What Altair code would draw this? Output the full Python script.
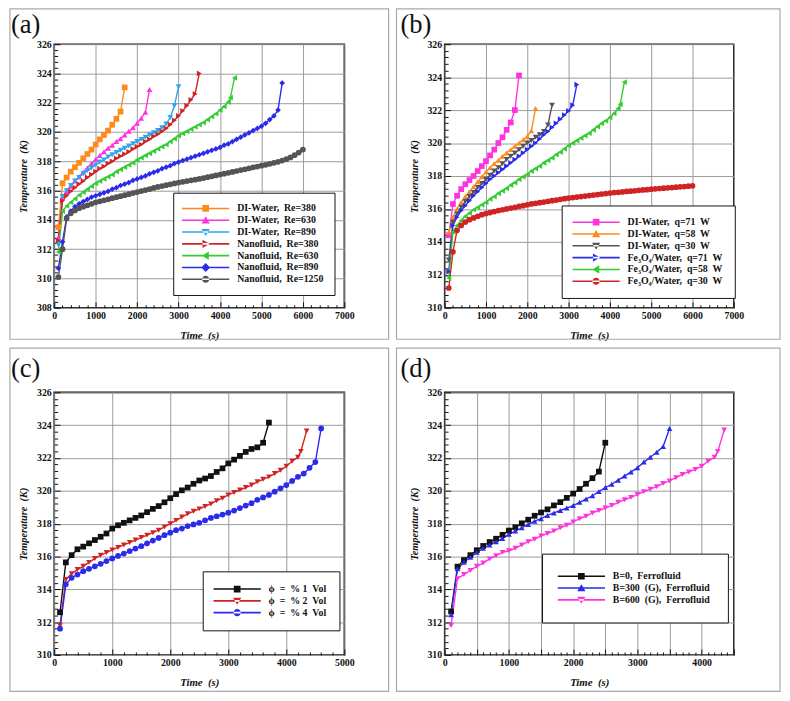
import altair as alt
import pandas as pd

FONT = "Liberation Serif"

# ---------------- data: panel (a) ----------------
A_T380 = list(range(100, 1800, 100))
A_DI380 = [313.5, 316.5, 316.9, 317.3, 317.6, 317.9, 318.2, 318.5, 318.8, 319.15, 319.5, 319.8, 320.1, 320.5, 320.9, 321.4, 323.05]
A_T630 = list(range(100, 2400, 100))
A_DI630 = [312.8, 315.5, 315.9, 316.3, 316.65, 316.95, 317.25, 317.55, 317.85, 318.15, 318.4, 318.65, 318.9, 319.1, 319.35, 319.55, 319.8, 320.05, 320.3, 320.6, 320.95, 321.35, 322.9]
A_T890 = list(range(100, 3100, 100))
A_DI890 = [312.3, 315.6, 316.0, 316.35, 316.65, 316.9, 317.15, 317.35, 317.55, 317.75, 317.95, 318.1, 318.3, 318.45, 318.6, 318.75, 318.9, 319.05, 319.2, 319.35, 319.5, 319.65, 319.8, 319.95, 320.1, 320.3, 320.55, 321.0, 321.8, 323.1]
A_TN380 = list(range(100, 3600, 100))
A_NF380 = [312.6, 315.3, 315.65, 315.95, 316.2, 316.45, 316.65, 316.9, 317.1, 317.3, 317.5, 317.65, 317.85, 318.0, 318.2, 318.35, 318.5, 318.65, 318.85, 319.0, 319.15, 319.35, 319.5, 319.7, 319.85, 320.05, 320.25, 320.5, 320.8, 321.1, 321.45, 321.8, 322.2, 322.6, 324.0]
A_TN630 = list(range(100, 4300, 100)) + [4250, 4350]
A_NF630 = [311.8, 314.6, 314.95, 315.2, 315.45, 315.7, 315.9, 316.1, 316.3, 316.5, 316.65, 316.8, 316.95, 317.1, 317.3, 317.45, 317.6, 317.75, 317.9, 318.1, 318.25, 318.4, 318.55, 318.7, 318.85, 319.0, 319.15, 319.35, 319.55, 319.75, 319.9, 320.05, 320.2, 320.35, 320.5, 320.65, 320.85, 321.05, 321.25, 321.5, 321.75, 322.05, 322.35, 323.7]
A_TN890 = list(range(100, 5600, 100))
A_NF890 = [310.7, 312.5, 314.2, 314.6, 314.9, 315.1, 315.25, 315.4, 315.55, 315.65, 315.75, 315.85, 315.95, 316.1, 316.2, 316.35, 316.45, 316.55, 316.7, 316.8, 316.9, 317.0, 317.15, 317.25, 317.35, 317.5, 317.6, 317.7, 317.85, 317.95, 318.05, 318.15, 318.25, 318.35, 318.45, 318.55, 318.65, 318.75, 318.85, 318.95, 319.1, 319.2, 319.35, 319.5, 319.65, 319.8, 319.95, 320.1, 320.25, 320.4, 320.6, 320.85, 321.1, 321.5, 323.35]
A_TN1250 = list(range(100, 6100, 100))
A_NF1250 = [310.1, 312.0, 314.1, 314.45, 314.65, 314.8, 314.9, 315.0, 315.1, 315.2, 315.27, 315.34, 315.41, 315.48, 315.55, 315.62, 315.69, 315.76, 315.83, 315.9, 315.97, 316.04, 316.11, 316.18, 316.25, 316.31, 316.37, 316.43, 316.49, 316.55, 316.6, 316.65, 316.7, 316.75, 316.8, 316.86, 316.92, 316.98, 317.04, 317.1, 317.16, 317.22, 317.28, 317.34, 317.4, 317.46, 317.52, 317.58, 317.64, 317.7, 317.76, 317.83, 317.9, 317.97, 318.05, 318.15, 318.27, 318.42, 318.6, 318.8]

# ---------------- data: panel (b) ----------------
B_T71 = list(range(100, 1900, 100))
B_DI71 = [314.4, 316.3, 316.8, 317.2, 317.5, 317.75, 318.0, 318.3, 318.6, 318.9, 319.25, 319.6, 320.0, 320.35, 320.8, 321.25, 322.0, 324.1]
B_T58 = list(range(100, 2300, 100))
B_DI58 = [314.6, 315.5, 316.0, 316.4, 316.75, 317.05, 317.35, 317.65, 317.95, 318.25, 318.5, 318.75, 318.95, 319.2, 319.4, 319.6, 319.8, 320.0, 320.2, 320.4, 320.75, 322.1]
B_T30 = list(range(100, 2700, 100))
B_DI30 = [312.9, 315.2, 315.7, 316.1, 316.45, 316.75, 317.0, 317.3, 317.55, 317.8, 318.05, 318.3, 318.5, 318.75, 319.0, 319.2, 319.4, 319.6, 319.8, 320.0, 320.15, 320.35, 320.5, 320.7, 321.1, 322.3]
B_TF71 = list(range(100, 3300, 100))
B_FE71 = [312.2, 315.0, 315.5, 315.9, 316.2, 316.5, 316.8, 317.05, 317.3, 317.55, 317.8, 318.0, 318.2, 318.4, 318.6, 318.8, 319.0, 319.2, 319.4, 319.6, 319.8, 320.0, 320.25, 320.5, 320.7, 320.95, 321.2, 321.45, 321.7, 321.95, 322.3, 323.55]
B_TF58 = list(range(100, 4300, 100)) + [4250, 4350]
B_FE58 = [311.8, 314.6, 315.0, 315.3, 315.55, 315.75, 315.95, 316.1, 316.25, 316.4, 316.6, 316.75, 316.95, 317.1, 317.25, 317.45, 317.6, 317.8, 317.95, 318.1, 318.3, 318.45, 318.6, 318.8, 318.95, 319.1, 319.3, 319.45, 319.65, 319.85, 320.0, 320.15, 320.3, 320.45, 320.6, 320.8, 321.0, 321.2, 321.35, 321.55, 321.8, 322.1, 322.35, 323.7]
B_TF30 = list(range(100, 6100, 100))
B_FE30 = [311.2, 313.4, 314.7, 315.0, 315.2, 315.35, 315.45, 315.55, 315.65, 315.72, 315.78, 315.84, 315.9, 315.95, 316.0, 316.05, 316.1, 316.15, 316.2, 316.25, 316.3, 316.34, 316.38, 316.42, 316.46, 316.5, 316.54, 316.58, 316.62, 316.66, 316.69, 316.72, 316.75, 316.78, 316.81, 316.84, 316.87, 316.9, 316.93, 316.96, 316.99, 317.01, 317.03, 317.06, 317.08, 317.1, 317.13, 317.15, 317.17, 317.2, 317.22, 317.24, 317.26, 317.28, 317.3, 317.32, 317.34, 317.36, 317.38, 317.4]

# ---------------- data: panel (c) ----------------
C_T1 = list(range(100, 3800, 100))
C_PHI1 = [312.6, 315.64, 316.08, 316.44, 316.6, 316.8, 317.0, 317.2, 317.4, 317.7, 317.9, 318.05, 318.2, 318.35, 318.5, 318.7, 318.9, 319.07, 319.3, 319.55, 319.8, 320.03, 320.2, 320.43, 320.63, 320.75, 320.9, 321.15, 321.37, 321.67, 321.9, 322.13, 322.37, 322.55, 322.65, 322.93, 324.16]
C_T2 = list(range(100, 4300, 100)) + [4250, 4350]
C_PHI2 = [311.8, 314.6, 314.95, 315.2, 315.4, 315.64, 315.88, 316.08, 316.24, 316.4, 316.55, 316.7, 316.85, 317.0, 317.15, 317.3, 317.45, 317.6, 317.8, 318.0, 318.2, 318.4, 318.6, 318.75, 318.9, 319.05, 319.2, 319.4, 319.55, 319.75, 319.9, 320.05, 320.2, 320.35, 320.55, 320.7, 320.85, 321.05, 321.25, 321.5, 321.8, 322.05, 322.4, 323.65]
C_T4 = list(range(100, 4700, 100))
C_PHI4 = [311.6, 314.3, 314.7, 314.9, 315.1, 315.25, 315.4, 315.55, 315.72, 315.88, 316.03, 316.18, 316.33, 316.48, 316.63, 316.8, 316.97, 317.13, 317.3, 317.45, 317.6, 317.7, 317.85, 317.95, 318.05, 318.2, 318.35, 318.45, 318.55, 318.67, 318.8, 318.95, 319.1, 319.25, 319.45, 319.6, 319.75, 319.95, 320.15, 320.35, 320.6, 320.85, 321.05, 321.4, 321.75, 323.8]

# ---------------- data: panel (d) ----------------
D_T0 = list(range(100, 2600, 100))
D_B0 = [312.65, 315.38, 315.78, 316.08, 316.38, 316.64, 316.88, 317.08, 317.32, 317.58, 317.78, 318.02, 318.24, 318.48, 318.68, 318.87, 319.11, 319.31, 319.57, 319.83, 320.11, 320.43, 320.77, 321.17, 322.93]
D_T300 = list(range(100, 3600, 100))
D_B300 = [312.45, 315.25, 315.65, 315.95, 316.25, 316.5, 316.7, 316.9, 317.1, 317.35, 317.55, 317.75, 317.95, 318.15, 318.3, 318.5, 318.65, 318.8, 318.95, 319.1, 319.3, 319.5, 319.7, 319.95, 320.2, 320.4, 320.65, 320.9, 321.15, 321.4, 321.75, 322.05, 322.35, 322.7, 323.8]
D_T600 = list(range(100, 4300, 100)) + [4250, 4350]
D_B600 = [311.8, 314.65, 314.9, 315.15, 315.4, 315.6, 315.85, 316.05, 316.25, 316.35, 316.5, 316.7, 316.9, 317.05, 317.25, 317.4, 317.55, 317.75, 317.9, 318.1, 318.3, 318.45, 318.65, 318.8, 318.95, 319.1, 319.3, 319.45, 319.6, 319.77, 319.95, 320.1, 320.25, 320.45, 320.6, 320.8, 321.0, 321.15, 321.3, 321.5, 321.8, 322.05, 322.4, 323.7]

ORANGE, MAGENTA, CYAN = "#ff8a1c", "#ff33dd", "#2fa6ec"
RED, GREEN, BLUE, GRAY, BLACK = "#d02424", "#33cc33", "#2b2bea", "#555555", "#111111"
NB = "\u00a0"

# legend symbol paths: a line segment plus the marker (units of sqrt(size)/2)
LINE_PATH = "M-11,-0.2H1V0.2H-11Z"
MARKER_PATH = {
    "square": "M-5.85,-0.85H-4.15V0.85H-5.85Z",
    "triangle-up": "M-5,-1L-3.95,0.8H-6.05Z",
    "triangle-down": "M-5,1L-3.95,-0.8H-6.05Z",
    "triangle-right": "M-4,0L-5.8,-1.05V1.05Z",
    "triangle-left": "M-6,0L-4.2,-1.05V1.05Z",
    "diamond": "M-5,-1.15L-3.9,0L-5,1.15L-6.1,0Z",
    "circle": "M-5.9,0A0.9,0.9,0,1,0,-4.1,0A0.9,0.9,0,1,0,-5.9,0Z",
}


def make_panel(series, xmax, x_minor, x_grid, ymin, width, height, letter,
               frame, letter_pos, leg_x, leg_y, leg_pad, sym_off):
    names = [s[0] for s in series]
    colors = [s[3] for s in series]
    shapes = [s[4] for s in series]
    paths = [LINE_PATH + " " + MARKER_PATH[s[4]] for s in series]
    rows = []
    for name, ts, vals, _c, _s in series:
        for t, v in zip(ts, vals):
            rows.append({"series": name, "t": t, "T": v})
    df = pd.DataFrame(rows)

    xvals = list(range(0, xmax + 1, x_minor))
    ny = int(round((326 - ymin) / 0.4))
    yvals = [round(ymin + 0.4 * i, 1) for i in range(ny + 1)]

    xmaj = f"datum.value % {x_grid} === 0"
    ymaj = "(abs(datum.value % 2) < 0.01 || abs(datum.value % 2 - 2) < 0.01)"
    common = dict(
        domain=False, tickColor="#111", tickWidth=1, tickCount=1000, tickMinStep=0.01,
        gridColor="#9a9a9a", gridWidth=1,
        labelFont=FONT, labelFontWeight="bold", labelFontSize=10, labelColor="#111",
        titleFont=FONT, titleFontWeight="bold", titleFontStyle="italic",
        titleColor="#111", labelOverlap=False, labelFlush=False,
    )
    xaxis = alt.Axis(values=xvals, title=f"Time{NB} (s)",
                     labelExpr="datum.value % 1000 === 0 ? format(datum.value, '.0f') : ''",
                     gridOpacity={"expr": f"{xmaj} ? 1 : 0"},
                     tickSize={"expr": f"{xmaj} ? -6 : -3"},
                     labelPadding=9, titlePadding=6, titleFontSize=11, **common)
    yaxis = alt.Axis(values=yvals, title=f"Temperature{NB} (K)",
                     labelExpr=f"{ymaj} ? format(datum.value, '.0f') : ''",
                     gridOpacity={"expr": f"{ymaj} ? 1 : 0"},
                     tickSize={"expr": f"{ymaj} ? -6 : -3.5"},
                     labelPadding=9, titlePadding=8, titleFontSize=10.5, **common)

    x = alt.X("t:Q", scale=alt.Scale(domain=[0, xmax], nice=False, zero=False), axis=xaxis)
    y = alt.Y("T:Q", scale=alt.Scale(domain=[ymin, 326], nice=False, zero=False), axis=yaxis)

    base = alt.Chart(df)
    lines = base.mark_line(strokeWidth=1.4).encode(
        x=x, y=y,
        color=alt.Color("series:N", scale=alt.Scale(domain=names, range=colors), legend=None),
        detail="series:N",
    )
    points = base.mark_point(filled=True, opacity=1, size=34).encode(
        x=x, y=y,
        color=alt.Color("series:N", scale=alt.Scale(domain=names, range=colors), legend=None),
        shape=alt.Shape("series:N", scale=alt.Scale(domain=names, range=shapes), legend=None),
    )
    leg = alt.Legend(orient="none", legendX=leg_x, legendY=leg_y,
                     strokeColor="#111", fillColor="white", padding=leg_pad,
                     labelFont=FONT, labelFontWeight="bold", labelFontSize=10,
                     labelColor="#111", symbolStrokeWidth=0, symbolSize=64,
                     symbolOffset=sym_off, labelOffset=7, rowPadding=2, labelLimit=400)
    legend_layer = base.transform_filter("datum.t < 0").mark_point(
        filled=True, opacity=1, size=64).encode(
        color=alt.Color("series:N", scale=alt.Scale(domain=names, range=colors),
                        legend=leg, title=None),
        shape=alt.Shape("series:N", scale=alt.Scale(domain=names, range=paths),
                        legend=leg, title=None),
    )
    one = alt.Data(values=[{"k": 1}])
    fx1, fx2, fy1, fy2 = frame
    frame_layer = alt.Chart(one).mark_rect(
        fill="transparent", stroke="#a8a8a8", strokeWidth=1.2).encode(
        x=alt.value(fx1), x2=alt.value(fx2), y=alt.value(fy1), y2=alt.value(fy2))
    letter_layer = alt.Chart(one).mark_text(
        text=letter, font=FONT, fontSize=27, align="left", baseline="alphabetic",
        color="#111").encode(x=alt.value(letter_pos[0]), y=alt.value(letter_pos[1]))

    return alt.layer(frame_layer, lines, points, legend_layer, letter_layer).resolve_scale(
        color="independent", shape="independent").properties(width=width, height=height)


panel_a = make_panel(
    [
        (f"DI-Water,{NB} Re=380", A_T380, A_DI380, ORANGE, "square"),
        (f"DI-Water,{NB} Re=630", A_T630, A_DI630, MAGENTA, "triangle-up"),
        (f"DI-Water,{NB} Re=890", A_T890, A_DI890, CYAN, "triangle-down"),
        (f"Nanofluid,{NB} Re=380", A_TN380, A_NF380, RED, "triangle-right"),
        (f"Nanofluid,{NB} Re=630", A_TN630, A_NF630, GREEN, "triangle-left"),
        (f"Nanofluid,{NB} Re=890", A_TN890, A_NF890, BLUE, "diamond"),
        (f"Nanofluid,{NB} Re=1250", A_TN1250, A_NF1250, GRAY, "circle"),
    ],
    xmax=7000, x_minor=200, x_grid=1000, ymin=308, width=295, height=268,
    letter="(a)", frame=(-45, 340, -36, 300), letter_pos=(-44, -11.5),
    leg_x=121, leg_y=151, leg_pad=11, sym_off=37,
)

panel_b = make_panel(
    [
        (f"DI-Water,{NB} q=71{NB} W", B_T71, B_DI71, MAGENTA, "square"),
        (f"DI-Water,{NB} q=58{NB} W", B_T58, B_DI58, ORANGE, "triangle-up"),
        (f"DI-Water,{NB} q=30{NB} W", B_T30, B_DI30, GRAY, "triangle-down"),
        (f"Fe\u2083O\u2084/Water,{NB} q=71{NB} W", B_TF71, B_FE71, BLUE, "triangle-right"),
        (f"Fe\u2083O\u2084/Water,{NB} q=58{NB} W", B_TF58, B_FE58, GREEN, "triangle-left"),
        (f"Fe\u2083O\u2084/Water,{NB} q=30{NB} W", B_TF30, B_FE30, RED, "circle"),
    ],
    xmax=7000, x_minor=200, x_grid=1000, ymin=310, width=294, height=268,
    letter="(b)", frame=(-49, 341, -36, 300), letter_pos=(-45, -11.5),
    leg_x=119, leg_y=164, leg_pad=12, sym_off=38,
)

panel_c = make_panel(
    [
        (f"\u03d5{NB} ={NB} % 1{NB} Vol", C_T1, C_PHI1, BLACK, "square"),
        (f"\u03d5{NB} ={NB} % 2{NB} Vol", C_T2, C_PHI2, RED, "triangle-down"),
        (f"\u03d5{NB} ={NB} % 4{NB} Vol", C_T4, C_PHI4, BLUE, "circle"),
    ],
    xmax=5000, x_minor=200, x_grid=1000, ymin=310, width=295, height=267,
    letter="(c)", frame=(-45, 340, -45, 304), letter_pos=(-44, -16),
    leg_x=151, leg_y=182, leg_pad=13, sym_off=37,
)

panel_d = make_panel(
    [
        (f"B=0,{NB} Ferrofluid", D_T0, D_B0, BLACK, "square"),
        (f"B=300{NB} (G),{NB} Ferrofluid", D_T300, D_B300, BLUE, "triangle-up"),
        (f"B=600{NB} (G),{NB} Ferrofluid", D_T600, D_B600, MAGENTA, "triangle-down"),
    ],
    xmax=4500, x_minor=100, x_grid=500, ymin=310, width=294, height=267,
    letter="(d)", frame=(-49, 341, -45, 304), letter_pos=(-45, -16),
    leg_x=99, leg_y=164, leg_pad=18, sym_off=37,
)

chart = alt.vconcat(
    alt.hconcat(panel_a, panel_b, spacing=4),
    alt.hconcat(panel_c, panel_d, spacing=4),
    spacing=5,
).properties(
    padding={"left": 0, "top": -7, "right": 0, "bottom": 0}
).configure_view(stroke="#111", strokeWidth=1.6)

chart.save("out.html", embed_options={"renderer": "svg", "actions": False})
